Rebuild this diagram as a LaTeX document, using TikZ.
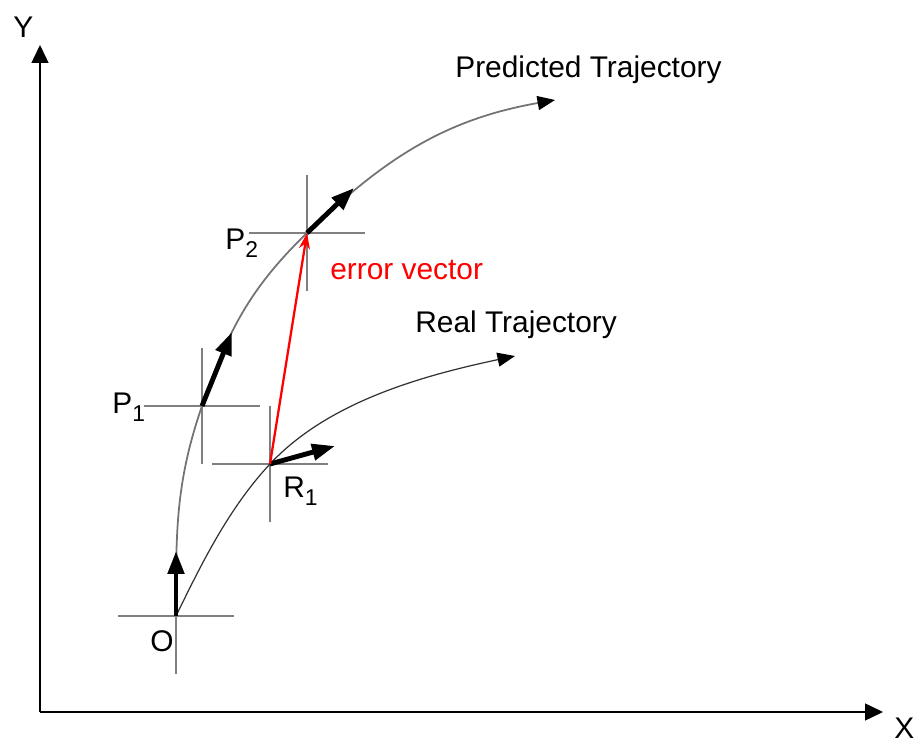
\documentclass[tikz,border=0pt]{standalone}
\usepackage{fontspec}
\setmainfont{Liberation Sans}
\usetikzlibrary{arrows.meta}

\begin{document}
\begin{tikzpicture}[
  >=Latex,
  lbl/.style={font=\fontsize{17}{20}\selectfont, inner sep=0pt, anchor=base west},
  axis/.style={-{Triangle[length=3.6mm,width=3.4mm]}, line width=0.85pt},
  cross/.style={black!50, line width=0.6pt},
  traj/.style={-{Triangle[length=3.5mm,width=2.8mm,color=black]}},
  vel/.style={-{Triangle[length=4.6mm,width=3.2mm]}, line width=2.8pt},
  err/.style={-{Stealth[length=3.2mm,width=2.2mm]}, red, line width=1.3pt}
]
\useasboundingbox (-0.8,-0.66) rectangle (17.56,14.24);

\coordinate (orig) at (0,0);
\coordinate (ytip) at (0,13.34);
\coordinate (xtip) at (16.86,0);

\coordinate (O) at (2.72,1.92);
\coordinate (P1) at (3.24,6.12);
\coordinate (R1) at (4.60,4.96);
\coordinate (P2) at (5.34,9.58);
\coordinate (predEnd) at (10.30,12.24);
\coordinate (realEnd) at (9.50,7.12);

\coordinate (vO) at (2.72,3.22);
\coordinate (vP1) at (3.84,7.60);
\coordinate (vR1) at (5.90,5.32);
\coordinate (vP2) at (6.28,10.48);

% axes
\draw[axis] (orig) -- (ytip);
\draw[axis] (orig) -- (xtip);
\node[lbl] (ylab) at (-0.54,13.48) {Y};
\node[lbl] (xlab) at (17.08,-0.54) {X};

% cross hairs
\foreach \p in {O,P1,R1,P2}
  \draw[cross] (\p) ++(-1.16,0) -- ++(2.32,0) (\p) ++(0,-1.16) -- ++(0,2.32);

% trajectories
\draw[traj, black!55, line width=1pt] (O) to[out=90,in=251] (P1)
  to[out=71,in=224] (P2) to[out=44,in=190] (predEnd);
\draw[traj, black!80, line width=0.7pt] (O) .. controls +(64:1.2) and +(227:1.2) .. (R1)
  .. controls +(47:1.7) and +(192:1.9) .. (realEnd);

% velocities
\draw[vel] (O) -- (vO);
\draw[vel] (P1) -- (vP1);
\draw[vel] (R1) -- (vR1);
\draw[vel] (P2) -- (vP2);

\draw[err] (R1) -- (P2);

\node[lbl] (olab) at (2.2,1.2) {O};
\node[lbl] (p1lab) at (1.44,5.96) {P\raisebox{-0.16cm}{\fontsize{13}{15}\selectfont 1}};
\node[lbl] (r1lab) at (4.86,4.28) {R\raisebox{-0.16cm}{\fontsize{13}{15}\selectfont 1}};
\node[lbl] (p2lab) at (3.70,9.24) {P\raisebox{-0.16cm}{\fontsize{13}{15}\selectfont 2}};
\node[lbl, red] (errlab) at (5.80,8.64) {error vector};
\node[lbl] (predlab) at (8.30,12.68) {Predicted Trajectory};
\node[lbl] (reallab) at (7.50,7.58) {Real Trajectory};

\end{tikzpicture}
\end{document}
